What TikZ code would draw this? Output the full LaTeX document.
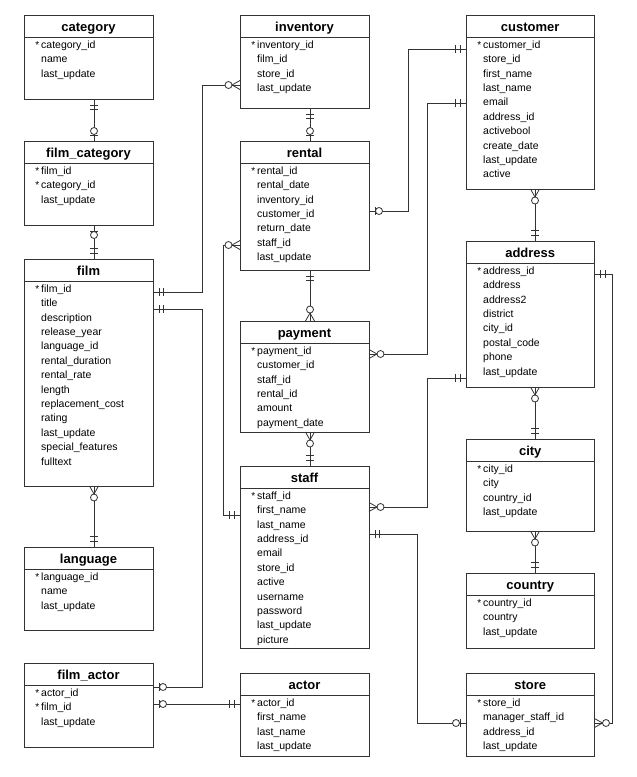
\documentclass[tikz,border=0pt]{standalone}
\usepackage{fontspec}
\setmainfont{Liberation Sans}

\newcommand{\pk}{\llap{{\fontsize{10}{10}\selectfont *}\hspace{2pt}}}

% ER end marks: two bars / bar and circle / crow's foot and circle
\pgfdeclarearrow{
  name = Eone,
  parameters = {\the\pgflinewidth},
  setup code = {
    \pgfarrowssettipend{0pt}
    \pgfarrowssetlineend{0pt}
    \pgfarrowssetbackend{-11pt}
    \pgfarrowshullpoint{0pt}{4pt}
    \pgfarrowshullpoint{0pt}{-4pt}
    \pgfarrowshullpoint{-11pt}{4pt}
    \pgfarrowshullpoint{-11pt}{-4pt}
  },
  drawing code = {
    \pgfsetdash{}{0pt}
    \pgfpathmoveto{\pgfqpoint{-6pt}{-4pt}}
    \pgfpathlineto{\pgfqpoint{-6pt}{4pt}}
    \pgfpathmoveto{\pgfqpoint{-10.5pt}{-4pt}}
    \pgfpathlineto{\pgfqpoint{-10.5pt}{4pt}}
    \pgfusepathqstroke
  }
}
\pgfdeclarearrow{
  name = Ezone,
  parameters = {\the\pgflinewidth},
  setup code = {
    \pgfarrowssettipend{0pt}
    \pgfarrowssetlineend{0pt}
    \pgfarrowssetbackend{-14pt}
    \pgfarrowshullpoint{0pt}{4pt}
    \pgfarrowshullpoint{0pt}{-4pt}
    \pgfarrowshullpoint{-14pt}{4pt}
    \pgfarrowshullpoint{-14pt}{-4pt}
  },
  drawing code = {
    \pgfsetdash{}{0pt}
    \pgfpathmoveto{\pgfqpoint{-6pt}{-4pt}}
    \pgfpathlineto{\pgfqpoint{-6pt}{4pt}}
    \pgfusepathqstroke
    \pgfpathcircle{\pgfqpoint{-10pt}{0pt}}{3.5pt}
    \pgfsetfillcolor{white}
    \pgfusepathqfillstroke
  }
}
\pgfdeclarearrow{
  name = Emany,
  parameters = {\the\pgflinewidth},
  setup code = {
    \pgfarrowssettipend{0pt}
    \pgfarrowssetlineend{0pt}
    \pgfarrowssetbackend{-15pt}
    \pgfarrowshullpoint{0pt}{4.5pt}
    \pgfarrowshullpoint{0pt}{-4.5pt}
    \pgfarrowshullpoint{-15pt}{4pt}
    \pgfarrowshullpoint{-15pt}{-4pt}
  },
  drawing code = {
    \pgfsetdash{}{0pt}
    \pgfpathmoveto{\pgfqpoint{0pt}{4.5pt}}
    \pgfpathlineto{\pgfqpoint{-8pt}{0pt}}
    \pgfpathlineto{\pgfqpoint{0pt}{-4.5pt}}
    \pgfusepathqstroke
    \pgfpathcircle{\pgfqpoint{-11.5pt}{0pt}}{3.5pt}
    \pgfsetfillcolor{white}
    \pgfusepathqfillstroke
  }
}

\tikzset{
  tbl/.style={draw=black!80,line width=0.8pt,anchor=north west,inner sep=0pt,outer sep=0pt,minimum width=129pt},
  ttl/.style={anchor=base,inner sep=0pt,font=\fontsize{13}{15}\selectfont\bfseries},
  fld/.style={anchor=north west,inner sep=0pt,align=left,font=\fontsize{10.5}{14.4}\selectfont},
  sepline/.style={draw=black!80,line width=0.8pt},
  rel/.style={draw=black!80,line width=0.8pt},
}

\begin{document}
\begin{tikzpicture}[x=1pt,y=1pt]
\fill[white] (0,0) rectangle (637,-777);
\useasboundingbox (0,0) rectangle (637,-777);

% left column
\node[tbl,minimum height=84] (category) at (24,-15) {};
\node[ttl] (category_t) at ([yshift=-16]category.north) {category};
\draw[sepline] ([yshift=-22.5]category.north west) -- ([yshift=-22.5]category.north east);
\node[fld] (category_f) at ([xshift=17,yshift=-25.5]category.north west) {\pk category\_id\\name\\last\_update};

\node[tbl,minimum height=84] (film_category) at (24,-141) {};
\node[ttl] (film_category_t) at ([yshift=-16]film_category.north) {film\_category};
\draw[sepline] ([yshift=-22.5]film_category.north west) -- ([yshift=-22.5]film_category.north east);
\node[fld] (film_category_f) at ([xshift=17,yshift=-25.5]film_category.north west) {\pk film\_id\\\pk category\_id\\last\_update};

\node[tbl,minimum height=227] (film) at (24,-259) {};
\node[ttl] (film_t) at ([yshift=-16]film.north) {film};
\draw[sepline] ([yshift=-22.5]film.north west) -- ([yshift=-22.5]film.north east);
\node[fld] (film_f) at ([xshift=17,yshift=-25.5]film.north west) {\pk film\_id\\title\\description\\release\_year\\language\_id\\rental\_duration\\rental\_rate\\length\\replacement\_cost\\rating\\last\_update\\special\_features\\fulltext};

\node[tbl,minimum height=83] (language) at (24,-547) {};
\node[ttl] (language_t) at ([yshift=-16]language.north) {language};
\draw[sepline] ([yshift=-22.5]language.north west) -- ([yshift=-22.5]language.north east);
\node[fld] (language_f) at ([xshift=17,yshift=-25.5]language.north west) {\pk language\_id\\name\\last\_update};

\node[tbl,minimum height=84] (film_actor) at (24,-663) {};
\node[ttl] (film_actor_t) at ([yshift=-16]film_actor.north) {film\_actor};
\draw[sepline] ([yshift=-22.5]film_actor.north west) -- ([yshift=-22.5]film_actor.north east);
\node[fld] (film_actor_f) at ([xshift=17,yshift=-25.5]film_actor.north west) {\pk actor\_id\\\pk film\_id\\last\_update};

% middle column
\node[tbl,minimum height=93] (inventory) at (240,-15) {};
\node[ttl] (inventory_t) at ([yshift=-16]inventory.north) {inventory};
\draw[sepline] ([yshift=-22.5]inventory.north west) -- ([yshift=-22.5]inventory.north east);
\node[fld] (inventory_f) at ([xshift=17,yshift=-25.5]inventory.north west) {\pk inventory\_id\\film\_id\\store\_id\\last\_update};

\node[tbl,minimum height=129] (rental) at (240,-141) {};
\node[ttl] (rental_t) at ([yshift=-16]rental.north) {rental};
\draw[sepline] ([yshift=-22.5]rental.north west) -- ([yshift=-22.5]rental.north east);
\node[fld] (rental_f) at ([xshift=17,yshift=-25.5]rental.north west) {\pk rental\_id\\rental\_date\\inventory\_id\\customer\_id\\return\_date\\staff\_id\\last\_update};

\node[tbl,minimum height=111] (payment) at (240,-321) {};
\node[ttl] (payment_t) at ([yshift=-16]payment.north) {payment};
\draw[sepline] ([yshift=-22.5]payment.north west) -- ([yshift=-22.5]payment.north east);
\node[fld] (payment_f) at ([xshift=17,yshift=-25.5]payment.north west) {\pk payment\_id\\customer\_id\\staff\_id\\rental\_id\\amount\\payment\_date};

\node[tbl,minimum height=182] (staff) at (240,-466) {};
\node[ttl] (staff_t) at ([yshift=-16]staff.north) {staff};
\draw[sepline] ([yshift=-22.5]staff.north west) -- ([yshift=-22.5]staff.north east);
\node[fld] (staff_f) at ([xshift=17,yshift=-25.5]staff.north west) {\pk staff\_id\\first\_name\\last\_name\\address\_id\\email\\store\_id\\active\\username\\password\\last\_update\\picture};

\node[tbl,minimum height=83] (actor) at (240,-673) {};
\node[ttl] (actor_t) at ([yshift=-16]actor.north) {actor};
\draw[sepline] ([yshift=-22.5]actor.north west) -- ([yshift=-22.5]actor.north east);
\node[fld] (actor_f) at ([xshift=17,yshift=-25.5]actor.north west) {\pk actor\_id\\first\_name\\last\_name\\last\_update};

% right column
\node[tbl,minimum width=128.5,minimum height=174] (customer) at (466,-15) {};
\node[ttl] (customer_t) at ([yshift=-16]customer.north) {customer};
\draw[sepline] ([yshift=-22.5]customer.north west) -- ([yshift=-22.5]customer.north east);
\node[fld] (customer_f) at ([xshift=17,yshift=-25.5]customer.north west) {\pk customer\_id\\store\_id\\first\_name\\last\_name\\email\\address\_id\\activebool\\create\_date\\last\_update\\active};

\node[tbl,minimum width=128.5,minimum height=146] (address) at (466,-241) {};
\node[ttl] (address_t) at ([yshift=-16]address.north) {address};
\draw[sepline] ([yshift=-22.5]address.north west) -- ([yshift=-22.5]address.north east);
\node[fld] (address_f) at ([xshift=17,yshift=-25.5]address.north west) {\pk address\_id\\address\\address2\\district\\city\_id\\postal\_code\\phone\\last\_update};

\node[tbl,minimum width=128.5,minimum height=92] (city) at (466,-439) {};
\node[ttl] (city_t) at ([yshift=-16]city.north) {city};
\draw[sepline] ([yshift=-22.5]city.north west) -- ([yshift=-22.5]city.north east);
\node[fld] (city_f) at ([xshift=17,yshift=-25.5]city.north west) {\pk city\_id\\city\\country\_id\\last\_update};

\node[tbl,minimum width=128.5,minimum height=75] (country) at (466,-573) {};
\node[ttl] (country_t) at ([yshift=-16]country.north) {country};
\draw[sepline] ([yshift=-22.5]country.north west) -- ([yshift=-22.5]country.north east);
\node[fld] (country_f) at ([xshift=17,yshift=-25.5]country.north west) {\pk country\_id\\country\\last\_update};

\node[tbl,minimum width=128.5,minimum height=83] (store) at (466,-673) {};
\node[ttl] (store_t) at ([yshift=-16]store.north) {store};
\draw[sepline] ([yshift=-22.5]store.north west) -- ([yshift=-22.5]store.north east);
\node[fld] (store_f) at ([xshift=17,yshift=-25.5]store.north west) {\pk store\_id\\manager\_staff\_id\\address\_id\\last\_update};

% relations
\draw[rel,Eone-Ezone] ([xshift=5.5]category.south) -- ([xshift=5.5]film_category.north);
\draw[rel,Ezone-Eone] ([xshift=5.5]film_category.south) -- ([xshift=5.5]film.north);
\draw[rel,Emany-Eone] ([xshift=5.5]film.south) -- ([xshift=5.5]language.north);
\draw[rel,Eone-Emany] ([yshift=-33]film.north east) -- ++(49,0) |- ([yshift=-70]inventory.north west);
\draw[rel,Eone-Ezone] ([yshift=-50]film.north east) -- ++(49,0) |- ([yshift=-24]film_actor.north east);
\coordinate (fa_r) at ([yshift=-41]film_actor.north east);
\draw[rel,Ezone-Eone] (fa_r) -- (fa_r -| actor.west);

\draw[rel,Eone-Ezone] ([xshift=5.5]inventory.south) -- ([xshift=5.5]rental.north);
\draw[rel,Eone-Emany] ([xshift=5.5]rental.south) -- ([xshift=5.5]payment.north);
\draw[rel,Emany-Eone] ([xshift=5.5]payment.south) -- ([xshift=5.5]staff.north);
\draw[rel,Ezone-Eone] ([yshift=-70]rental.north east) -- ++(39,0) |- ([yshift=-34]customer.north west);
\draw[rel,Emany-Eone] ([yshift=-104]rental.north west) -- ++(-17,0) |- ([yshift=-49]staff.north west);
\draw[rel,Emany-Eone] ([yshift=-33]payment.north east) -- ++(58,0) |- ([yshift=-88]customer.north west);
\draw[rel,Eone-Ezone] ([yshift=-68]staff.north east) -- ++(48,0) |- ([yshift=-50]store.north west);

\draw[rel,Emany-Eone] ([xshift=4.75]customer.south) -- ([xshift=4.75]address.north);
\draw[rel,Emany-Eone] ([xshift=4.75]address.south) -- ([xshift=4.75]city.north);
\draw[rel,Emany-Eone] ([xshift=4.75]city.south) -- ([xshift=4.75]country.north);
\draw[rel,Eone-Emany] ([yshift=-33]address.north east) -- ++(18,0) |- ([yshift=-50]store.north east);
\draw[rel,Eone-Emany] ([yshift=-137]address.north west) -- ++(-39,0) |- ([yshift=-41]staff.north east);

\end{tikzpicture}
\end{document}
